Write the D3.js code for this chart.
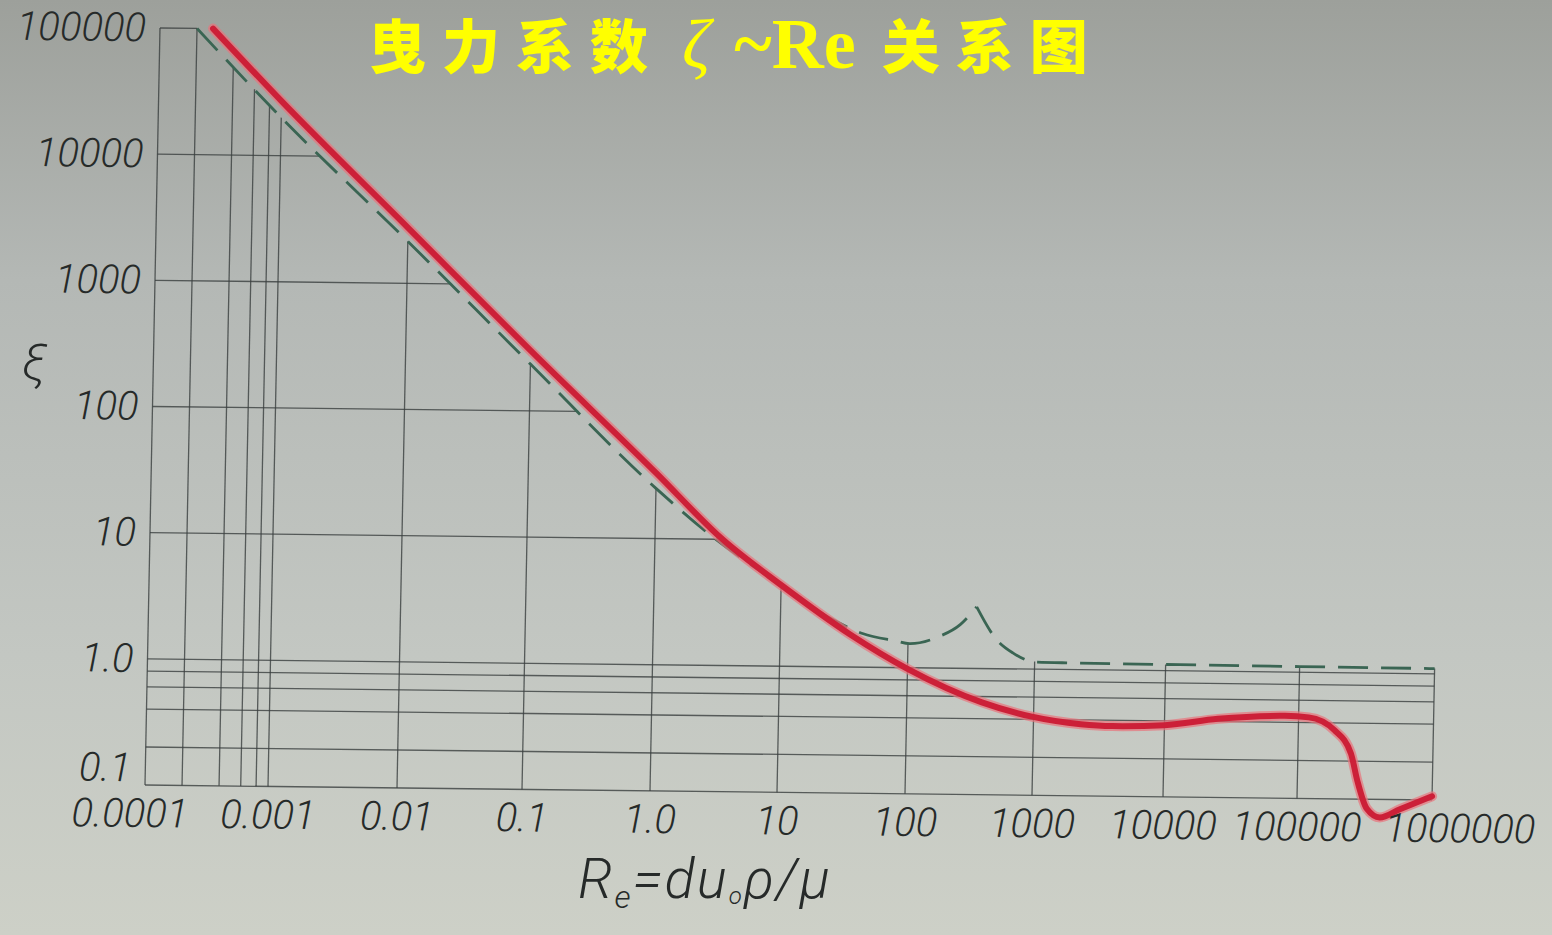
<!DOCTYPE html>
<html>
<head>
<meta charset="utf-8">
<script src="https://cdn.jsdelivr.net/npm/d3@7"></script>
<style>
  body { margin: 0; background: #babdb8; }
  svg { display: block; }
</style>
</head>
<body>
<svg id="chart" width="1552" height="935"></svg>
<script>
// axis ticks
const xTicks = [1e-4, 1e-3, 1e-2, 0.1, 1, 10, 100, 1e3, 1e4, 1e5, 1e6];
const xTickLabels = ["0.0001", "0.001", "0.01", "0.1", "1.0", "10", "100", "1000", "10000", "100000", "1000000"];
const yTicks = [0.1, 1, 10, 100, 1000, 10000, 100000];
const yTickLabels = ["0.1", "1.0", "10", "100", "1000", "10000", "100000"];

// grid lines printed on the sheet
const xGrid = [1e-4, 2e-4, 4e-4, 6e-4, 8e-4, 1e-3, 1e-2, 0.1, 1, 10, 100, 1e3, 1e4, 1e5, 1e6];
const yGrid = [0.1, 0.2, 0.4, 0.6, 0.8, 1, 10, 100, 1000, 10000, 100000];

// red curve (measured drag coefficient)
const measuredRe = [0.00027, 0.001, 0.01, 0.1, 1, 3.4, 10, 35, 100, 390, 970, 2300, 4000, 10000, 25000, 79000, 119000, 185000, 247000, 278000, 330000, 412000, 580000, 1000000];
const measuredXi = [100000, 27000, 2750, 300, 33, 10, 4.4, 1.82, 0.98, 0.54, 0.42, 0.37, 0.36, 0.37, 0.42, 0.45, 0.44, 0.35, 0.23, 0.14, 0.084, 0.072, 0.084, 0.107];

// dashed curve
const dashedRe = [0.0002, 0.001, 0.01, 0.1, 1, 3, 10, 25, 44, 81, 103, 178, 256, 343, 493, 671, 1018, 1740, 10000, 100000, 1000000];
const dashedXi = [100000, 20000, 2150, 235, 25, 10, 4.4, 2.4, 1.85, 1.62, 1.55, 1.79, 2.22, 3.08, 1.72, 1.34, 1.14, 1.13, 1.12, 1.11, 1.1];

const svg = d3.select("#chart");

// paper background
const grad = svg.append("defs").append("linearGradient")
  .attr("id", "paper").attr("x1", 0).attr("y1", 0).attr("x2", 0).attr("y2", 1);
grad.append("stop").attr("offset", "0%").attr("stop-color", "#9da09b");
grad.append("stop").attr("offset", "30%").attr("stop-color", "#b4b8b5");
grad.append("stop").attr("offset", "70%").attr("stop-color", "#c3c7c2");
grad.append("stop").attr("offset", "100%").attr("stop-color", "#cdd0c7");
svg.append("rect").attr("width", 1552).attr("height", 935).attr("fill", "url(#paper)");

// the printed decades are not evenly spaced in the photo
const x = d3.scaleLog()
  .domain(xTicks)
  .range([145, 268, 397, 522, 650, 777, 905, 1032, 1163, 1297, 1432]);
const y = d3.scaleLog().domain([0.1, 100000]).range([785, 28]);

// photo is taken slightly skewed
const plot = svg.append("g")
  .attr("transform", "translate(145,785) matrix(1,0.01166,-0.0198,1,0,0) translate(-145,-785)");

const lg = Math.log10;

// dashed curve value at a given Re (log-log interpolation)
function dashedAt(re) {
  if (re <= dashedRe[0]) return Infinity;
  const n = dashedRe.length;
  if (re >= dashedRe[n - 1]) return dashedXi[n - 1];
  const i = d3.bisectRight(dashedRe, re);
  const t = (lg(re) - lg(dashedRe[i - 1])) / (lg(dashedRe[i]) - lg(dashedRe[i - 1]));
  return Math.pow(10, lg(dashedXi[i - 1]) + t * (lg(dashedXi[i]) - lg(dashedXi[i - 1])));
}

// first Re where the dashed curve comes down to a value
function dashedCross(v) {
  for (let i = 0; i < dashedRe.length - 1; i++) {
    const a = dashedXi[i], b = dashedXi[i + 1];
    if ((a - v) * (b - v) <= 0) {
      const t = (lg(v) - lg(a)) / (lg(b) - lg(a));
      return Math.pow(10, lg(dashedRe[i]) + t * (lg(dashedRe[i + 1]) - lg(dashedRe[i])));
    }
  }
  return 1e6;
}

// grid, only drawn under the dashed curve
const grid = plot.append("g")
  .attr("stroke", "#3a3f3e")
  .attr("stroke-width", 1.3)
  .attr("stroke-opacity", 0.8);

grid.selectAll(".vg")
  .data(xGrid)
  .join("line")
  .attr("class", "vg")
  .attr("x1", d => x(d))
  .attr("x2", d => x(d))
  .attr("y1", y(0.1))
  .attr("y2", d => y(Math.min(100000, dashedAt(d))));

grid.selectAll(".hg")
  .data(yGrid)
  .join("line")
  .attr("class", "hg")
  .attr("x1", x(1e-4))
  .attr("x2", d => x(dashedCross(d)))
  .attr("y1", d => y(d))
  .attr("y2", d => y(d));

// curves
const line = d3.line()
  .x(d => x(d[0]))
  .y(d => y(d[1]))
  .curve(d3.curveMonotoneX);

const dashed = d3.zip(dashedRe, dashedXi);
const peak = d3.maxIndex(dashed, d => d[0] > 100 ? d[1] : 0);

plot.selectAll(".dash")
  .data([dashed.slice(0, peak + 1), dashed.slice(peak)])
  .join("path")
  .attr("class", "dash")
  .attr("d", line)
  .attr("fill", "none")
  .attr("stroke", "#3a6553")
  .attr("stroke-width", 2.8)
  .attr("stroke-dasharray", "30 13");

const measured = d3.zip(measuredRe, measuredXi);

plot.append("path")
  .attr("d", line(measured))
  .attr("fill", "none")
  .attr("stroke", "#e8737c")
  .attr("stroke-opacity", 0.7)
  .attr("stroke-width", 10)
  .attr("stroke-linecap", "round");

plot.append("path")
  .attr("d", line(measured))
  .attr("fill", "none")
  .attr("stroke", "#cc2038")
  .attr("stroke-width", 6)
  .attr("stroke-linecap", "round");

// tick labels
function styleTicks(g) {
  g.select(".domain").remove();
  g.attr("font-family", "Roboto")
    .attr("font-size", 40)
    .attr("font-style", "italic")
    .attr("font-weight", 300)
    .attr("color", "#262a29");
}

plot.append("g")
  .attr("transform", `translate(0,${y(0.1) + 28})`)
  .call(d3.axisBottom(x).tickValues(xTicks).tickFormat((d, i) => xTickLabels[i]).tickSize(0).tickPadding(0))
  .call(styleTicks)
  .selectAll("text")
  .attr("dy", "0.35em")
  .attr("dx", (d, i) => i === 0 ? -15 : (i === xTicks.length - 1 ? 28 : 0));

plot.append("g")
  .attr("transform", `translate(${x(1e-4)},0)`)
  .call(d3.axisLeft(y).tickValues(yTicks).tickFormat((d, i) => yTickLabels[i]).tickSize(0).tickPadding(14))
  .call(styleTicks)
  .selectAll("text")
  .attr("transform", d => d === 0.1 ? "translate(0,-17)" : null);

// axis names
svg.append("text")
  .attr("x", 34)
  .attr("y", 380)
  .attr("text-anchor", "middle")
  .attr("font-family", "Roboto")
  .attr("font-weight", 300)
  .attr("font-style", "italic")
  .attr("font-size", 50)
  .attr("fill", "#262a29")
  .text("ξ");

const xName = svg.append("text")
  .attr("x", 578)
  .attr("y", 898)
  .attr("font-family", "Roboto")
  .attr("font-weight", 300)
  .attr("font-style", "italic")
  .attr("font-size", 56)
  .attr("letter-spacing", 2)
  .attr("fill", "#262a29");
xName.append("tspan").text("R");
xName.append("tspan").attr("font-size", 32).attr("dy", 10).text("e");
xName.append("tspan").attr("dy", -10).text("=du");
xName.append("tspan").attr("font-size", 24).attr("dy", 6).text("o");
xName.append("tspan").attr("dy", -6).text("ρ/μ");

// title
const title = svg.append("text")
  .attr("x", 368)
  .attr("y", 68)
  .attr("fill", "#ffff00");
title.append("tspan")
  .attr("font-family", "Noto Sans CJK SC")
  .attr("font-weight", 900)
  .attr("font-size", 58)
  .attr("letter-spacing", 16)
  .text("曳力系数");
title.append("tspan")
  .attr("dx", 18)
  .attr("font-family", "Liberation Serif")
  .attr("font-style", "italic")
  .attr("font-size", 70)
  .text("ζ");
title.append("tspan")
  .attr("dx", 24)
  .attr("font-family", "Liberation Serif")
  .attr("font-weight", "bold")
  .attr("font-size", 72)
  .text("~Re");
title.append("tspan")
  .attr("dx", 26)
  .attr("font-family", "Noto Sans CJK SC")
  .attr("font-weight", 900)
  .attr("font-size", 58)
  .attr("letter-spacing", 16)
  .text("关系图");
</script>
</body>
</html>
